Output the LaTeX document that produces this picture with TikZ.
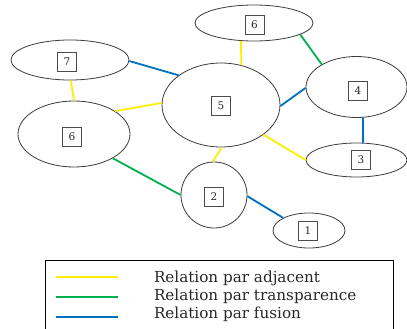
\documentclass[tikz,border=0pt]{standalone}
\usepackage{fontspec}
\setmainfont{DejaVu Serif}
\usetikzlibrary{shapes.geometric}

\begin{document}
\begin{tikzpicture}[x=1pt,y=-1pt,
  zone/.style={ellipse,draw=drawColor,line width=0.8pt,inner sep=0pt},
  numbox/.style={draw=boxColor,line width=0.9pt,minimum size=19pt,inner sep=0pt,
    text=textColor,font=\fontsize{10.5}{12}\selectfont},
  adjacent/.style={draw=adjColor,line width=1.8pt},
  transp/.style={draw=trColor,line width=1.8pt},
  fusion/.style={draw=fuColor,line width=1.8pt},
  legtext/.style={anchor=base west,inner sep=0pt,outer sep=0pt,text=textColor,
    font=\fontsize{15.2}{17}\selectfont}]
\definecolor{drawColor}{RGB}{60,60,60}
\definecolor{boxColor}{RGB}{75,75,75}
\definecolor{textColor}{RGB}{40,40,40}
\definecolor{adjColor}{RGB}{255,238,0}
\definecolor{trColor}{RGB}{0,176,80}
\definecolor{fuColor}{RGB}{0,112,192}
\path[use as bounding box,fill=white] (0,0) rectangle (407,329);
\begin{scope}
\path[clip] (0,0) rectangle (407,329);

% zones
\node[zone,minimum width=118pt,minimum height=36pt] (z6a) at (254,23) {};
\node[zone,minimum width=118pt,minimum height=40pt] (z7) at (70,60) {};
\node[zone,minimum width=118pt,minimum height=84pt] (z5) at (221,105) {};
\node[zone,minimum width=101pt,minimum height=61pt] (z4) at (356.5,87) {};
\node[zone,minimum width=101pt,minimum height=34pt] (z3) at (356.5,160) {};
\node[zone,minimum width=112pt,minimum height=66pt] (z6b) at (74,134) {};
\node[zone,minimum width=66pt,minimum height=66pt] (z2) at (214,195) {};
\node[zone,minimum width=72pt,minimum height=35pt] (z1) at (309,230.5) {};

% numbers
\node[numbox] (b6a) at (254.5,24.5) {6};
\node[numbox] (b7) at (67,62) {7};
\node[numbox] (b5) at (221,105.5) {5};
\node[numbox] (b4) at (358,91) {4};
\node[numbox] (b3) at (361,160) {3};
\node[numbox] (b6b) at (72,137) {6};
\node[numbox] (b2) at (214,197) {2};
\node[numbox] (b1) at (308,231) {1};

% relations
\draw[adjacent] (z6a.234) -- (z5.63);
\draw[transp] (z6a.346) -- (z4.147);
\draw[fusion] (z7.359) -- (z5.145);
\draw[adjacent] (z7.272) -- (z6b.90);
\draw[adjacent] (z6b.29) -- (z5.178);
\draw[fusion] (z5.359) -- (z4.181);
\draw[fusion] (z4.282) -- (z3.69);
\draw[adjacent] (z5.325) -- (z3.180);
\draw[adjacent] (z5.271) -- (z2.92);
\draw[transp] (z6b.328) -- (z2.180);
\draw[fusion] (z2.358) -- (z1.154);

% legend
\path[draw=black,line width=0.8pt] (45,260) rectangle (393,335);
\path[draw=adjColor,line width=2.6pt] (56,277) -- (118,277);
\path[draw=trColor,line width=2.6pt] (56,297) -- (118,297);
\path[draw=fuColor,line width=2.6pt] (56,317) -- (118,317);
\node[legtext] (ladj) at (154,282) {Relation par adjacent};
\node[legtext] (ltr) at (154,300.5) {Relation par transparence};
\node[legtext] (lfu) at (154,318.5) {Relation par fusion};
\end{scope}
\end{tikzpicture}
\end{document}
